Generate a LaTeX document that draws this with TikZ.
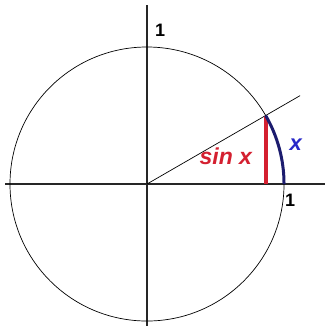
\documentclass[tikz,border=0pt]{standalone}
\usepackage{fontspec}
\setmainfont{Liberation Sans}
\definecolor{sinred}{RGB}{212,32,48}
\definecolor{arcblue}{RGB}{28,28,110}
\definecolor{lblblue}{RGB}{40,40,200}
\begin{document}
\begin{tikzpicture}[x=137pt,y=137pt,font=\bfseries,
    axis/.style={line width=1.1pt,black!85},
    sinline/.style={line width=3.8pt,sinred},
    xarc/.style={line width=3pt,arcblue}]
			\useasboundingbox (-1.073,-1.036) rectangle (1.321,1.343);
			\draw[axis] (-1.036,0)--(1.30,0);
			\draw[axis] (0,-1.036)--(0,1.307);
			\draw[line width=0.7pt] (0,0) circle (1);
			\draw[line width=0.7pt] (0,0)--(30:1.29);
			\draw[sinline] ({cos(30)},0)--(30:1);
			\draw[xarc] (1,0) arc (0:30:1);
			\node[sinred,font=\fontsize{23}{23}\bfseries\itshape] (sinx) at (0.575,0.2) {sin x};
			\node[lblblue,font=\fontsize{22}{22}\bfseries\itshape] (arcx) at (1.085,0.29) {x};
			\node[font=\fontsize{18}{18}\bfseries] (oney) at (0.095,1.12) {1};
			\node[font=\fontsize{18}{18}\bfseries] (onex) at (1.045,-0.12) {1};
		\end{tikzpicture}
\end{document}
